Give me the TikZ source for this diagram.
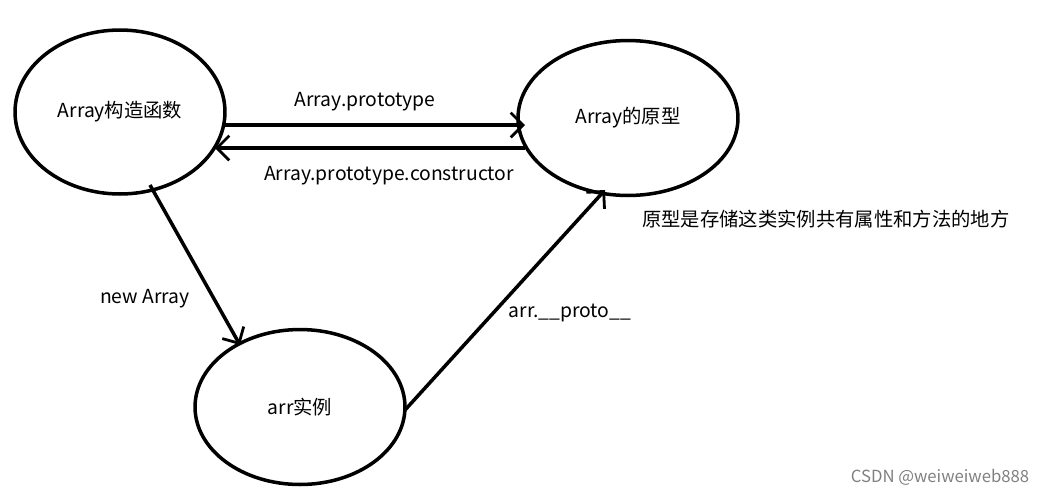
\documentclass[tikz,border=0pt]{standalone}
\usepackage{fontspec}
\setmainfont{Noto Sans CJK SC}
\usetikzlibrary{shapes.geometric,arrows.meta}
\begin{document}
\begin{tikzpicture}[x=0.02cm,y=-0.02cm,
    blob/.style={draw, ellipse, line width=2pt, inner sep=0pt},
    link/.style={line width=2pt, -{Straight Barb[length=7pt,width=14pt,line width=1.6pt]}},
    lbl/.style={font=\fontsize{11}{13}\selectfont}]
        \useasboundingbox (0,0) rectangle (1054,495);
        \node[blob, minimum width=4.2cm, minimum height=3.28cm] (ctor) at (120,112) {};
        \node[blob, minimum width=4.4cm, minimum height=3.1cm] (proto) at (628,118) {};
        \node[blob, minimum width=4.2cm, minimum height=3.1cm] (inst) at (300,407) {};
        \node[lbl] at (ctor.center) {Array构造函数};
        \node[lbl] at (proto.center) {Array的原型};
        \node[lbl] at (inst.center) {arr实例};
        
        \coordinate (c1) at (225,125);
        \coordinate (p1) at (525,125);
        \coordinate (p2) at (525,148);
        \coordinate (c2) at (215,148);
        \coordinate (c3) at (150,185);
        \coordinate (i1) at (240,345);
        \coordinate (i2) at (405,410);
        \coordinate (p3) at (605,190);
        
        \draw[link] (c1) -- (p1);
        \draw[link] (p2) -- (c2);
        \draw[link] (c3) -- (i1);
        \draw[link] (i2) -- (p3);
        
        \node[lbl] (l1) at (365,102) {Array.prototype};
        \node[lbl] (l2) at (389,176) {Array.prototype.constructor};
        \node[lbl] (l3) at (145,299) {new Array};
        \node[lbl] (l4) at (570,313) {arr.\_\_proto\_\_};
        \node[lbl, anchor=west] (note) at (636,219) {原型是存储这类实例共有属性和方法的地方};
        \node[font=\fontsize{9.5}{11}\selectfont, text=gray] (mark) at (940,477) {CSDN @weiweiweb888};
    \end{tikzpicture}
\end{document}
